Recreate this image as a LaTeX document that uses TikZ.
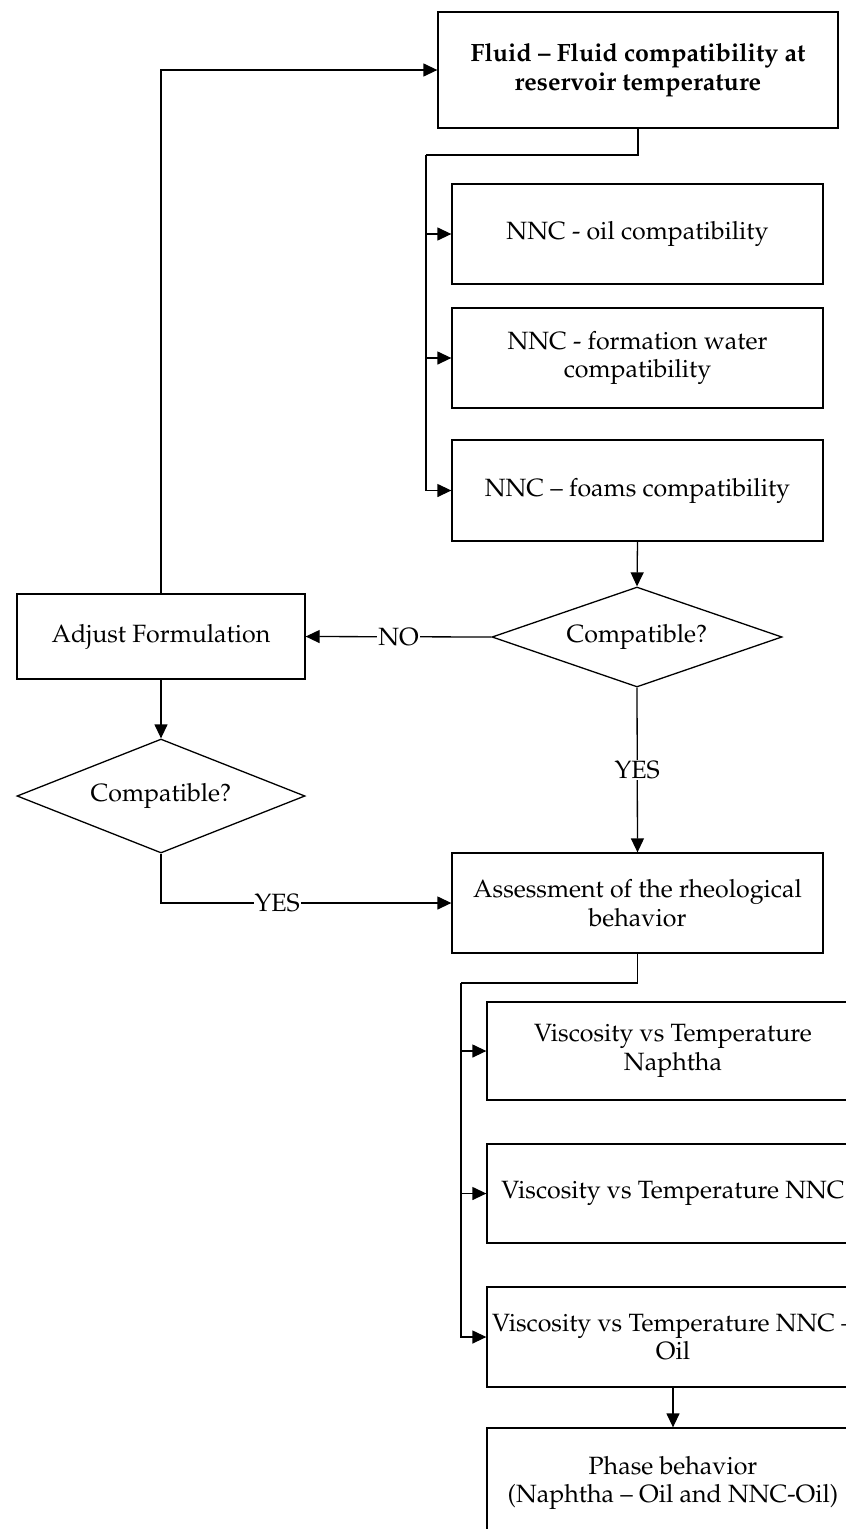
\documentclass[tikz,border=0pt]{standalone}
\usepackage[T1]{fontenc}
\usepackage{mathpazo}
\usetikzlibrary{arrows.meta,shapes.geometric}
\begin{document}
\begin{tikzpicture}[x=1pt,y=-1pt,
  every node/.style={font=\fontsize{25}{28.5}\selectfont, align=center},
  box/.style={draw, rectangle, inner sep=0pt, line width=1.3pt},
  decision/.style={draw, diamond, inner sep=0pt, shape aspect=2.9, line width=1.3pt},
  conn/.style={line width=1.3pt},
  arr/.style={conn, -{Triangle[length=14pt,width=13pt]}},
  lbl/.style={fill=white, inner sep=1pt}]
\useasboundingbox (0,0) rectangle (846,1529);
\clip (0,0) rectangle (846,1529);

% compatibility stage
\node[box, minimum width=400pt, minimum height=116pt] (top) at (638,70)
  {\bfseries Fluid -- Fluid compatibility at\\\bfseries reservoir temperature};
\node[box, minimum width=371pt, minimum height=100pt] (oil) at (637.5,234)
  {NNC - oil compatibility};
\node[box, minimum width=371pt, minimum height=100pt] (water) at (637.5,358)
  {NNC - formation water\\compatibility};
\node[box, minimum width=371pt, minimum height=101pt] (foams) at (637.5,490.5)
  {NNC -- foams compatibility};
\node[decision, minimum width=290pt, minimum height=100pt] (dec1) at (637,637)
  {Compatible?};
\node[box, minimum width=288pt, minimum height=85pt] (adjust) at (161,636.5)
  {Adjust Formulation};
\node[decision, minimum width=288pt, minimum height=114pt] (dec2) at (161,796)
  {Compatible?};

% rheology stage
\node[box, minimum width=371pt, minimum height=100pt] (assess) at (637.5,903)
  {Assessment of the rheological\\behavior};
\node[box, minimum width=372pt, minimum height=98pt] (v1) at (673,1051)
  {Viscosity vs Temperature\\Naphtha};
\node[box, minimum width=372pt, minimum height=99pt] (v2) at (673,1193.5)
  {Viscosity vs Temperature NNC};
\node[box, minimum width=372pt, minimum height=100pt] (v3) at (673,1337)
  {Viscosity vs Temperature NNC --\\Oil};
\node[box, minimum width=372pt, minimum height=110pt] (phase) at (673,1483)
  {Phase behavior\\(Naphtha -- Oil and NNC-Oil)};

% branch points
\coordinate (b1) at (426,155);
\coordinate (b2) at (461,983);

% connectors
\draw[arr] (adjust.north) |- (top.west);
\draw[conn] (top.south) |- (b1);
\draw[arr] (b1) |- (oil.west);
\draw[arr] (b1) |- (water.west);
\draw[arr] (b1) |- (foams.west);
\draw[arr] (foams.south) -- (dec1.north);
\draw[arr] (dec1.west) -- node[lbl]{NO} (adjust.east);
\draw[arr] (adjust.south) -- (dec2.north);
\draw[arr] (dec2.south) |- node[lbl, pos=0.7]{YES} (assess.west);
\draw[arr] (dec1.south) -- node[lbl]{YES} (assess.north);
\draw[conn] (assess.south) |- (b2);
\draw[arr] (b2) |- (v1.west);
\draw[arr] (b2) |- (v2.west);
\draw[arr] (b2) |- (v3.west);
\draw[arr] (v3.south) -- (phase.north);
\end{tikzpicture}
\end{document}
